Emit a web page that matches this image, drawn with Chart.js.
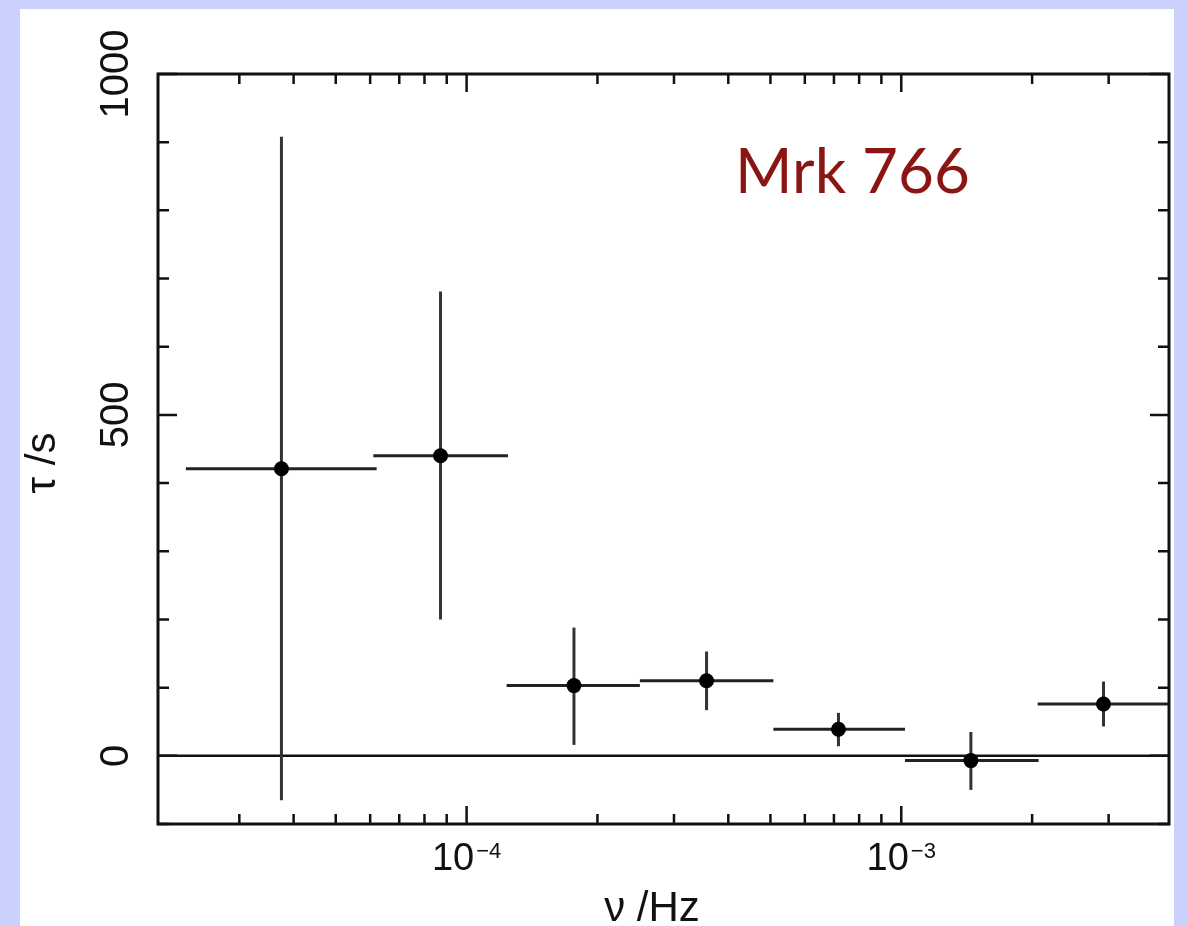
<!DOCTYPE html>
<html>
<head>
<meta charset="utf-8">
<script src="https://cdn.jsdelivr.net/npm/chart.js@4.4.1/dist/chart.umd.min.js"></script>
<style>
html,body{margin:0;padding:0;background:#c9d1fc;overflow:hidden}
canvas{display:block}
</style>
</head>
<body>
<canvas id="c" width="1187" height="926"></canvas>
<script>
// ---- data ----
const freq  = [3.75e-5, 8.71e-5, 1.766e-4, 3.565e-4, 7.17e-4, 1.446e-3, 2.919e-3]; // Hz
const binLo = [2.26e-5, 6.10e-5, 1.236e-4, 2.504e-4, 5.08e-4, 1.02e-3, 2.06e-3];
const binHi = [6.21e-5, 1.245e-4, 2.504e-4, 5.08e-4, 1.02e-3, 2.07e-3, 4.3e-3];
const tau   = [421, 440, 103, 110, 39, -7, 76];      // s
const tauLo = [-65, 200, 16, 67, 14, -50, 43];
const tauHi = [908, 681, 188, 153, 63, 35, 109];

const xRange = [1.95e-5, 4.13e-3];
const yRange = [-100, 1000];
const yMinorStep = 100;
const yMajorTicks = [0, 500, 1000];
const yTickLabels = ['0', '500', '1000'];
const xMajorTicks = [1e-4, 1e-3];
const xTickBase = ['10', '10'];
const xTickExp = ['\u22124', '\u22123'];
const xTitle = '\u03bd /Hz';
const yTitle = '\u03c4 /s';
const annotation = 'Mrk 766';

// ---- datasets built from the arrays ----
const datasets = [];
datasets.push({
  label: 'tau', data: freq.map((f, i) => ({x: f, y: tau[i]})),
  showLine: false, pointRadius: 7.5, pointHoverRadius: 7.5,
  pointBackgroundColor: '#000', pointBorderColor: '#000', pointBorderWidth: 0, order: 0
});
freq.forEach((f, i) => {
  datasets.push({
    data: [{x: binLo[i], y: tau[i]}, {x: binHi[i], y: tau[i]}],
    showLine: true, borderColor: '#222', borderWidth: 3, pointRadius: 0, order: 1
  });
  datasets.push({
    data: [{x: f, y: tauLo[i]}, {x: f, y: tauHi[i]}],
    showLine: true, borderColor: '#333', borderWidth: 3, pointRadius: 0, order: 1
  });
});
datasets.push({
  data: [{x: xRange[0], y: 0}, {x: xRange[1], y: 0}],
  showLine: true, borderColor: '#111', borderWidth: 2.5, pointRadius: 0, order: 2
});

const FONT = '"Liberation Sans", Arial, Helvetica, sans-serif';

const decor = {
  id: 'decor',
  beforeDraw(chart) {
    const ctx = chart.ctx;
    ctx.save();
    ctx.fillStyle = '#c9d1fc';
    ctx.fillRect(0, 0, chart.width, chart.height);
    ctx.fillStyle = '#ffffff';
    ctx.fillRect(20, 9, 1154, 917);
    ctx.restore();
  },
  afterDatasetsDraw(chart) {
    const ctx = chart.ctx;
    const a = chart.chartArea;
    const xs = chart.scales.x, ys = chart.scales.y;
    ctx.save();
    ctx.strokeStyle = '#111';
    ctx.lineCap = 'butt';
    // frame
    ctx.lineWidth = 3;
    ctx.strokeRect(a.left, a.top, a.right - a.left, a.bottom - a.top);
    // y ticks (inward, both sides)
    ctx.lineWidth = 2.5;
    for (let v = yRange[0]; v <= yRange[1]; v += yMinorStep) {
      const py = ys.getPixelForValue(v);
      const len = yMajorTicks.includes(v) ? 19 : 11;
      ctx.beginPath();
      ctx.moveTo(a.left, py); ctx.lineTo(a.left + len, py);
      ctx.moveTo(a.right, py); ctx.lineTo(a.right - len, py);
      ctx.stroke();
    }
    // x ticks (log decades with minor ticks), top and bottom
    for (let e = -5; e <= -3; e++) {
      for (let m = 1; m <= 9; m++) {
        const v = m * Math.pow(10, e);
        const px = xs.getPixelForValue(v);
        if (px < a.left + 8 || px > a.right - 8) continue;
        const len = m === 1 ? 18 : 10;
        ctx.beginPath();
        ctx.moveTo(px, a.bottom); ctx.lineTo(px, a.bottom - len);
        ctx.moveTo(px, a.top); ctx.lineTo(px, a.top + len);
        ctx.stroke();
      }
    }
    // y tick labels (rotated)
    ctx.fillStyle = '#111';
    ctx.font = '40px ' + FONT;
    ctx.textAlign = 'center';
    ctx.textBaseline = 'middle';
    yMajorTicks.forEach((v, i) => {
      const py = ys.getPixelForValue(v);
      ctx.save();
      ctx.translate(117, py);
      ctx.rotate(-Math.PI / 2);
      ctx.fillText(yTickLabels[i], 0, 0);
      ctx.restore();
    });
    // x tick labels with superscript exponent
    xMajorTicks.forEach((v, i) => {
      const px = xs.getPixelForValue(v);
      ctx.font = '38px ' + FONT;
      const wb = ctx.measureText(xTickBase[i]).width;
      ctx.font = '22px ' + FONT;
      const we = ctx.measureText(xTickExp[i]).width;
      const x0 = px - (wb + we + 2) / 2;
      ctx.textAlign = 'left';
      ctx.textBaseline = 'alphabetic';
      ctx.font = '38px ' + FONT;
      ctx.fillText(xTickBase[i], x0, 870);
      ctx.font = '22px ' + FONT;
      ctx.fillText(xTickExp[i], x0 + wb + 2, 858);
    });
    // axis titles
    ctx.font = '42px ' + FONT;
    ctx.textAlign = 'center';
    ctx.textBaseline = 'alphabetic';
    ctx.fillText(xTitle, 652, 921);
    ctx.save();
    ctx.translate(55, 463);
    ctx.rotate(-Math.PI / 2);
    ctx.fillText(yTitle, 0, 0);
    ctx.restore();
    // annotation
    ctx.fillStyle = '#8b1513';
    ctx.font = '62px Lato, "Open Sans", sans-serif';
    ctx.textAlign = 'left';
    ctx.fillText(annotation, 735, 193);
    ctx.restore();
  }
};

new Chart(document.getElementById('c'), {
  type: 'scatter',
  data: { datasets },
  options: {
    responsive: false,
    animation: false,
    layout: { padding: { left: 158, top: 74, right: 18, bottom: 102 } },
    plugins: { legend: { display: false }, tooltip: { enabled: false } },
    scales: {
      x: { type: 'logarithmic', min: xRange[0], max: xRange[1], display: false },
      y: { type: 'linear', min: yRange[0], max: yRange[1], display: false }
    }
  },
  plugins: [decor]
});
</script>
</body>
</html>
